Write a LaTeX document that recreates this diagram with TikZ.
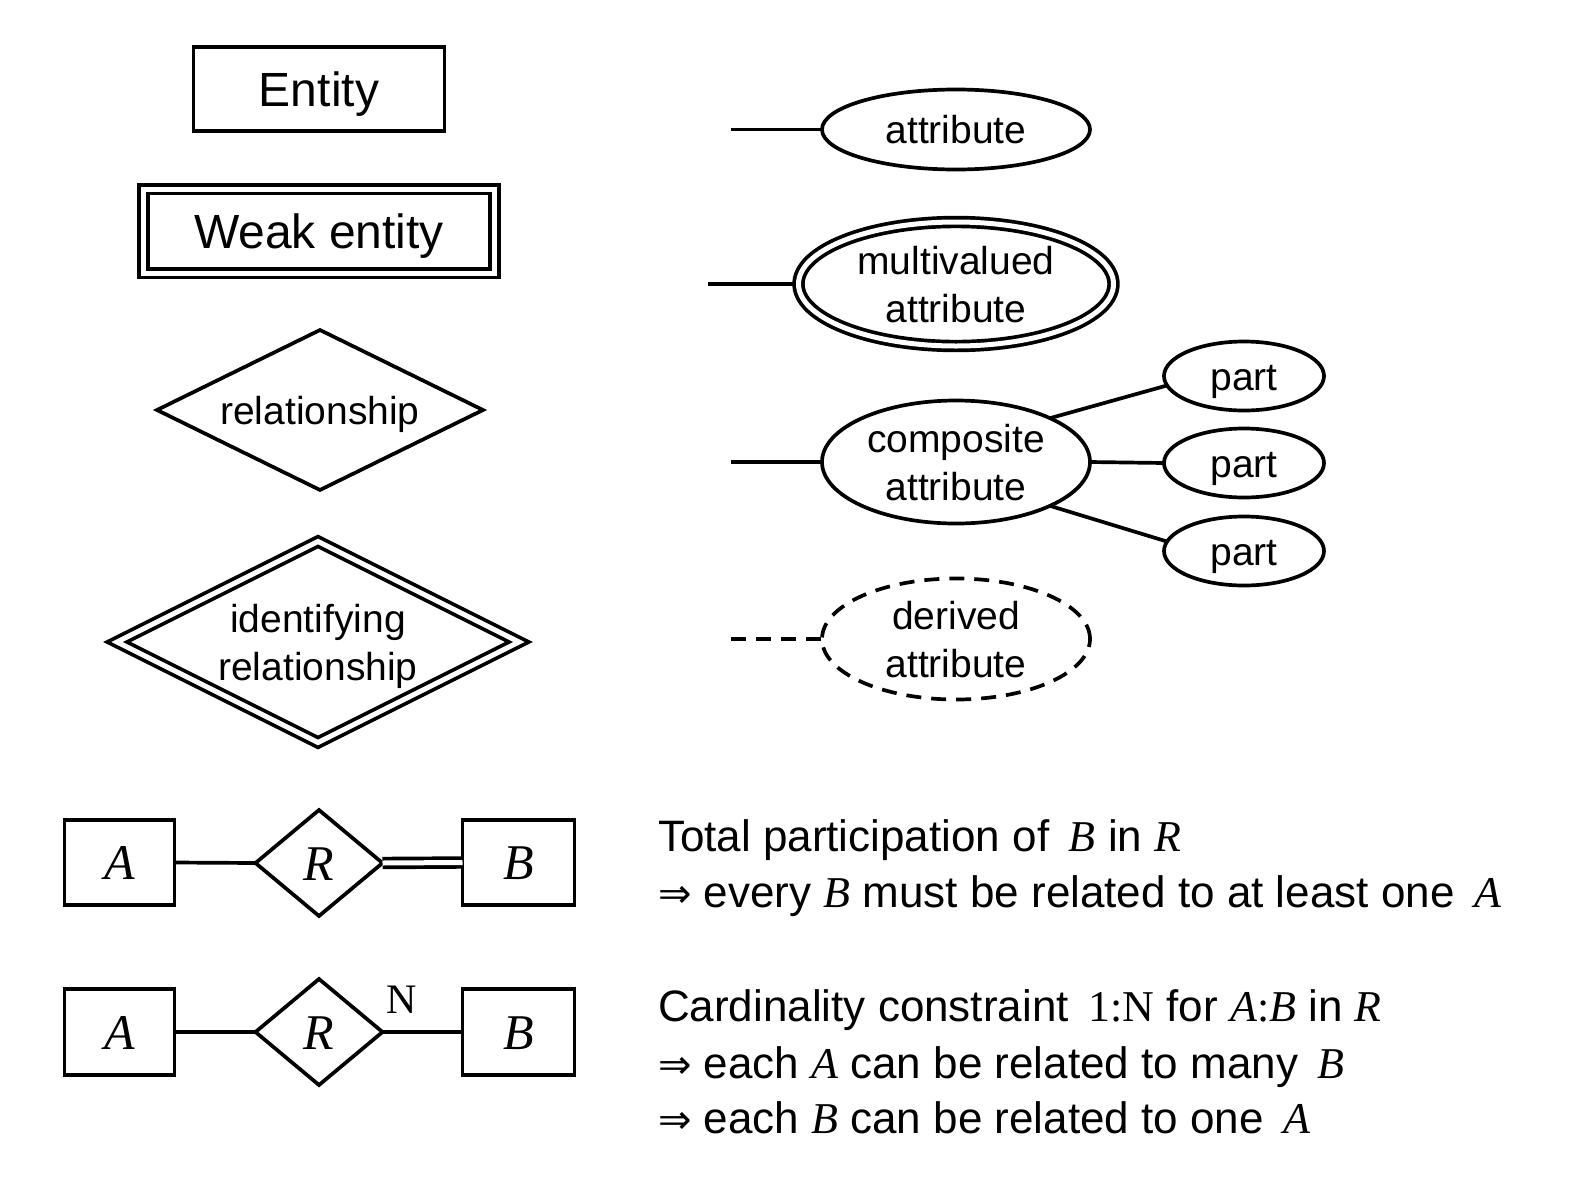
\documentclass[tikz,border=0pt]{standalone}
\usepackage{fontspec}
\setmainfont{Liberation Sans}
\newfontfamily\tms{Liberation Serif}
\newfontfamily\djv{DejaVu Sans}
\usetikzlibrary{shapes.geometric}
\newcommand{\mi}[1]{{\tms\itshape #1}}
\newcommand{\arr}{{\djv\fontsize{40}{48}\selectfont ⇒}}
\begin{document}
\begin{tikzpicture}[x=1pt,y=-1pt,
  every node/.style={inner sep=0pt, outer sep=0pt},
  ln/.style={line width=3.7pt},
  bigtxt/.style={font=\fontsize{48}{56}\selectfont, text height=34pt, text depth=0pt},
  txt/.style={font=\fontsize{39}{48}\selectfont, align=center},
  onel/.style={text height=28pt, text depth=0pt},
  ent/.style={draw, ln, rectangle},
  rel/.style={draw, ln, diamond, aspect=2},
  attr/.style={draw, ln, ellipse, txt},
  dbl/.style={double, double distance=5pt},
  dsh/.style={dash pattern=on 15pt off 10pt},
  mth/.style={font=\fontsize{50}{56}\selectfont\tms\itshape, text height=34pt, text depth=0pt},
  expl/.style={anchor=base west, font=\fontsize{44}{56}\selectfont},
]
\useasboundingbox (0,0) rectangle (1575,1181);
\fill[white] (0,0) rectangle (1575,1181);

% left column
\node[ent, bigtxt, minimum width=251pt, minimum height=84pt] (entity) at (319,89) {Entity};
\node[ent, dbl, bigtxt, minimum width=351pt, minimum height=84pt] (weak) at (319,231) {Weak entity};
\node[rel, txt, onel, minimum width=326pt, minimum height=160pt] (rel) at (320,410) {relationship};
\node[rel, dbl, txt, text depth=0pt, minimum width=402pt, minimum height=201pt] (ident) at (318,642) {identifying\\relationship};

% right column
\node[attr, onel, minimum width=268pt, minimum height=80pt] (attr) at (956,129.5) {attribute};
\coordinate (la) at (731,129.5);
\draw[ln] (la) -- (attr.west);

\node[attr, dbl, text depth=-6pt, minimum width=315pt, minimum height=124pt] (mv) at (956,284) {multivalued\\attribute};
\coordinate (lm) at (708,284);
\draw[ln, shorten >=4pt] (lm) -- (mv.west);

\node[attr, text depth=-6pt, minimum width=268pt, minimum height=123pt] (comp) at (956,462) {composite\\attribute};
\coordinate (lc) at (731,462);
\draw[ln] (lc) -- (comp.west);

\node[attr, onel, minimum width=160pt, minimum height=69pt] (p1) at (1244,376) {part};
\node[attr, onel, minimum width=160pt, minimum height=69pt] (p2) at (1244,463) {part};
\node[attr, onel, minimum width=160pt, minimum height=69pt] (p3) at (1244,551) {part};
\draw[ln] (comp.25) -- (p1.187);
\draw[ln] (comp.east) -- (p2.west);
\draw[ln] (comp.-25) -- (p3.173);

\node[attr, dsh, text depth=-6pt, minimum width=268pt, minimum height=121pt] (der) at (956,639) {derived\\attribute};
\coordinate (ld) at (731,639);
\draw[ln, dsh] (ld) -- (der.west);

% bottom examples
\node[ent, mth, minimum width=110pt, minimum height=85pt] (A1) at (119.5,862.5) {A};
\node[draw, ln, diamond, mth, minimum width=127pt, minimum height=106pt] (R1) at (319,863) {R};
\node[ent, mth, minimum width=112pt, minimum height=85pt] (B1) at (518.5,862.5) {B};
\draw[ln] (A1.east) -- (R1.west);
\draw[ln, dbl] (R1.east) -- (B1.west);

\node[ent, mth, minimum width=110pt, minimum height=86pt] (A2) at (119.5,1032) {A};
\node[draw, ln, diamond, mth, minimum width=127pt, minimum height=106pt] (R2) at (319,1032) {R};
\node[ent, mth, minimum width=112pt, minimum height=86pt] (B2) at (518.5,1032) {B};
\draw[ln] (A2.east) -- (R2.west);
\draw[ln] (R2.east) -- (B2.west);
\node[font=\fontsize{42}{48}\selectfont\tms] (N) at (402,1000) {N};

% explanations
\node[expl] (t1) at (658,851) {Total participation of \,\mi{B} in \mi{R}};
\node[expl] (t2) at (658,907) {\arr{} every \mi{B} must be related to at least one \,\mi{A}};
\node[expl] (t3) at (658,1021) {Cardinality constraint \,{\tms 1:N} for \mi{A}{\tms :}\mi{B} in \mi{R}};
\node[expl] (t4) at (658,1078) {\arr{} each \mi{A} can be related to many \,\mi{B}};
\node[expl] (t5) at (658,1133) {\arr{} each \mi{B} can be related to one \,\mi{A}};
\end{tikzpicture}
\end{document}
